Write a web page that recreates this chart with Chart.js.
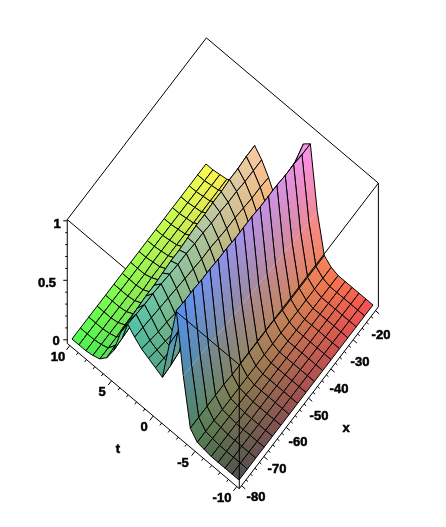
<!DOCTYPE html>
<html>
<head>
<meta charset="utf-8">
<title>surface</title>
<script src="https://cdn.jsdelivr.net/npm/chart.js@4/dist/chart.umd.min.js"></script>
<style>
  html, body { margin: 0; padding: 0; background: #fff; }
  canvas { display: block; }
</style>
</head>
<body>
<canvas id="myChart" width="446" height="527"></canvas>
<script>
// grid of the surface
const xValues = [-80, -76.25, -72.5, -68.75, -65, -61.25, -57.5, -53.75, -50, -46.25, -42.5, -38.75, -35, -31.25, -27.5, -23.75, -20];
const tValues = [-10, -9.17, -8.33, -7.5, -6.67, -5.83, -5, -4.17, -3.33, -2.5, -1.67, -0.83, 0, 0.83, 1.67, 2.5, 3.33, 4.17, 5, 5.83, 6.67, 7.5, 8.33, 9.17, 10];

// heights, one row per t, left to right along x
const zValues = [
  [0,0,0,0,0,0,0,0,0,0,0,0,0,0,0,0,0],
  [0,0,0,0,0,0,0,0,0,0,0,0,0,0,0,0,0],
  [0,0,0,0,0,0,0,0,0,0,0,0,0,0,0,0,0],
  [0,0,0,0,0,0,0,0,0,0,0,0,0,0,0,0,0],
  [0,0,0,0,0,0,0,0,0,0,0,0,0,0,0,0,0],
  [.01,.01,.01,.01,.01,.01,0,0,0,0,0,0,0,0,0,0,0],
  [.02,.02,.02,.02,.02,.02,.02,.02,.02,.02,.02,.02,.02,.02,.02,.02,.02],
  [.09,.09,.09,.09,.09,.08,.08,.08,.08,.08,.08,.07,.07,.07,.07,.07,.07],
  [.48,.47,.47,.46,.45,.44,.44,.43,.43,.42,.42,.41,.41,.40,.40,.39,.39],
  [.98,.97,.97,.96,.96,.95,.95,.94,.94,.94,.93,.93,.93,.92,.92,.91,.91],
  [.65,.66,.67,.68,.70,.71,.72,.73,.74,.75,.76,.77,.78,.79,.79,.80,.86],
  [.32,.33,.35,.36,.38,.39,.40,.41,.43,.44,.45,.46,.47,.48,.49,.49,.50],
  [.35,.34,.33,.31,.30,.29,.28,.27,.26,.25,.24,.23,.23,.22,.21,.20,.20],
  [.38,.36,.34,.32,.30,.28,.26,.25,.23,.21,.20,.19,.17,.16,.14,.13,.12],
  [.41,.39,.37,.36,.34,.32,.31,.29,.28,.27,.26,.25,.24,.23,.22,.21,.20],
  [.46,.45,.44,.43,.42,.41,.40,.39,.38,.38,.37,.36,.36,.35,.34,.34,.33],
  [.52,.51,.50,.50,.49,.48,.47,.47,.46,.46,.45,.45,.44,.44,.43,.43,.43],
  [.40,.41,.42,.43,.43,.44,.45,.45,.46,.47,.47,.48,.48,.49,.49,.50,.50],
  [.20,.21,.22,.23,.24,.25,.26,.27,.27,.28,.29,.30,.30,.31,.32,.32,.33],
  [.09,.10,.10,.11,.11,.11,.12,.12,.12,.13,.13,.13,.14,.14,.14,.15,.15],
  [.03,.03,.03,.04,.04,.04,.04,.05,.05,.05,.05,.05,.06,.06,.06,.06,.06],
  [.01,.01,.01,.01,.01,.01,.01,.02,.02,.02,.02,.02,.02,.02,.02,.02,.02],
  [0,0,0,0,0,0,0,0,.01,.01,.01,.01,.01,.01,.01,.01,.01],
  [0,0,0,0,0,0,0,0,0,0,0,0,0,0,0,0,0],
  [0,0,0,0,0,0,0,0,0,0,0,0,0,0,0,0,0]
];

// axis ticks and their labels
const xTicks = [-80, -70, -60, -50, -40, -30, -20];
const tTicks = [10, 5, 0, -5, -10];
const zTicks = ['0', '0.5', '1'];

// the box around the plot, in data units
const boxX = [-81, -18.7];
const boxT = [-10.3, 10.3];
const boxZ = [-0.03, 1.01];

// row of the tall wall, the original draws no grid line along it
const wallRow = 8;

const canvasCtx = document.getElementById('myChart').getContext('2d');

// fixed camera: data (x, t, z) to the flat plane of the chart
function project(x, t, z) {
    return {
        x: 239 + (x + 80) * 2.233 - (t + 10) * 8.35,
        y: 480 - (x + 80) * 2.917 - (t + 10) * 7.05 - z * 119
    };
}

const datasets = [];

function addLine(points, width) {
    datasets.push({
        data: points.map(p => project(p[0], p[1], p[2])),
        showLine: true,
        fill: false,
        borderColor: '#000',
        borderWidth: width || 1,
        pointRadius: 0
    });
}

function gridPoint(c) {
    return project(xValues[c[0]], tValues[c[1]], zValues[c[1]][c[0]]);
}

function colourAt(c) {
    const r = Math.round(80 + 170 * (xValues[c[0]] + 80) / 60);
    const g = Math.round(80 + 175 * (tValues[c[1]] + 10) / 20);
    const b = Math.round(80 + 170 * zValues[c[1]][c[0]]);
    return 'rgb(' + r + ',' + g + ',' + b + ')';
}

function addCell(i, k) {
    const corners = [[i, k], [i + 1, k], [i + 1, k + 1], [i, k + 1], [i, k]];
    const wall = k === wallRow || k + 1 === wallRow;
    const a = gridPoint(corners[0]);
    const c = gridPoint(corners[2]);
    // colour runs across the cell, corner to corner (chart plane units are canvas pixels here)
    const shade = canvasCtx.createLinearGradient(a.x, a.y, c.x, c.y);
    shade.addColorStop(0, colourAt(corners[0]));
    shade.addColorStop(1, colourAt(corners[2]));
    datasets.push({
        data: corners.map(gridPoint),
        showLine: true,
        fill: 'shape',
        backgroundColor: shade,
        borderColor: '#000',
        borderWidth: wall ? 0 : 1,
        pointRadius: 0
    });
    if (wall) {
        const open = k === wallRow ? [corners[1], corners[2], corners[3], corners[0]] : [corners[3], corners[0], corners[1], corners[2]];
        datasets.push({
            data: open.map(gridPoint),
            showLine: true,
            fill: false,
            borderColor: '#000',
            borderWidth: 1,
            pointRadius: 0
        });
    }
}

// box lines behind the surface
addLine([[boxX[0], boxT[1], boxZ[1]], [boxX[1], boxT[1], boxZ[1]]]);
addLine([[boxX[1], boxT[1], boxZ[1]], [boxX[1], boxT[0], boxZ[1]]]);
addLine([[boxX[0], boxT[1], boxZ[1]], [boxX[0], boxT[0], boxZ[1]]]);
addLine([[boxX[0], boxT[1], boxZ[0]], [boxX[0], boxT[1], boxZ[1]]]);
addLine([[boxX[1], boxT[0], boxZ[0]], [boxX[1], boxT[0], boxZ[1]]]);

// painter's order, far corner first
for (let i = xValues.length - 2; i >= 0; i--) {
    for (let k = tValues.length - 2; k >= 0; k--) {
        addCell(i, k);
    }
}

// box lines in front of the surface
addLine([[boxX[0], -2.8, boxZ[1]], [boxX[0], boxT[0], boxZ[1]]]);
addLine([[boxX[0], boxT[0], boxZ[1]], [boxX[1], boxT[0], boxZ[1]]]);
addLine([[boxX[0], boxT[0], boxZ[0]], [boxX[0], boxT[0], boxZ[1]]]);

// framed axes
addLine([[boxX[0], boxT[1], boxZ[0]], [boxX[0], boxT[0], boxZ[0]]]);
addLine([[boxX[0], boxT[0], boxZ[0]], [boxX[1], boxT[0], boxZ[0]]]);
for (let t = -10; t <= 10; t++) {
    addLine([[boxX[0], t, boxZ[0]], [boxX[0] - (t % 5 === 0 ? 1.5 : 0.8), t, boxZ[0]]]);
}
for (let x = -80; x <= -20; x += 2) {
    addLine([[x, boxT[0], boxZ[0]], [x, boxT[0] - (x % 10 === 0 ? 0.45 : 0.25), boxZ[0]]]);
}
for (let z = 0; z <= 10; z++) {
    const p = project(boxX[0], boxT[1], z / 10);
    datasets.push({
        data: [p, { x: p.x - (z % 5 === 0 ? 4 : 2), y: p.y }],
        showLine: true, fill: false, borderColor: '#000', borderWidth: 1, pointRadius: 0
    });
}

// first dataset ends up on top, so hand them over last-drawn-first
datasets.reverse();

// label centres on the chart plane
const xLabelSpots = [[256, 497], [277, 469], [298, 442], [319, 416], [339, 389], [360, 362], [381, 335]];
const tLabelSpots = [[58, 357], [102, 392], [144, 427], [183, 463], [222, 498]];
const zLabelSpots = [[56, 341], [47, 283], [57, 224]];

const labelPlugin = {
    id: 'surfaceLabels',
    afterDatasetsDraw(chart) {
        const ctx = chart.ctx;
        const sx = chart.scales.x;
        const sy = chart.scales.y;
        ctx.save();
        ctx.fillStyle = '#000';
        ctx.strokeStyle = '#000';
        ctx.lineWidth = 0.5;
        ctx.font = 'bold 13px "Liberation Sans"';
        ctx.textAlign = 'center';
        ctx.textBaseline = 'middle';
        const put = (text, spot) => {
            const px = sx.getPixelForValue(spot[0]);
            const py = sy.getPixelForValue(spot[1]);
            ctx.fillText(text, px, py);
            ctx.strokeText(text, px, py);
        };
        xTicks.forEach((v, n) => put(String(v), xLabelSpots[n]));
        tTicks.forEach((v, n) => put(String(v), tLabelSpots[n]));
        zTicks.forEach((v, n) => put(v, zLabelSpots[n]));
        put('t', [118, 449]);
        put('x', [346, 428]);
        ctx.restore();
    }
};

new Chart(canvasCtx, {
    type: 'scatter',
    data: { datasets: datasets },
    plugins: [labelPlugin],
    options: {
        responsive: false,
        animation: false,
        layout: { padding: 0 },
        plugins: { legend: { display: false }, tooltip: { enabled: false } },
        scales: {
            x: { type: 'linear', min: 0, max: 446, display: false },
            y: { type: 'linear', min: 0, max: 527, reverse: true, display: false }
        }
    }
});
</script>
</body>
</html>
